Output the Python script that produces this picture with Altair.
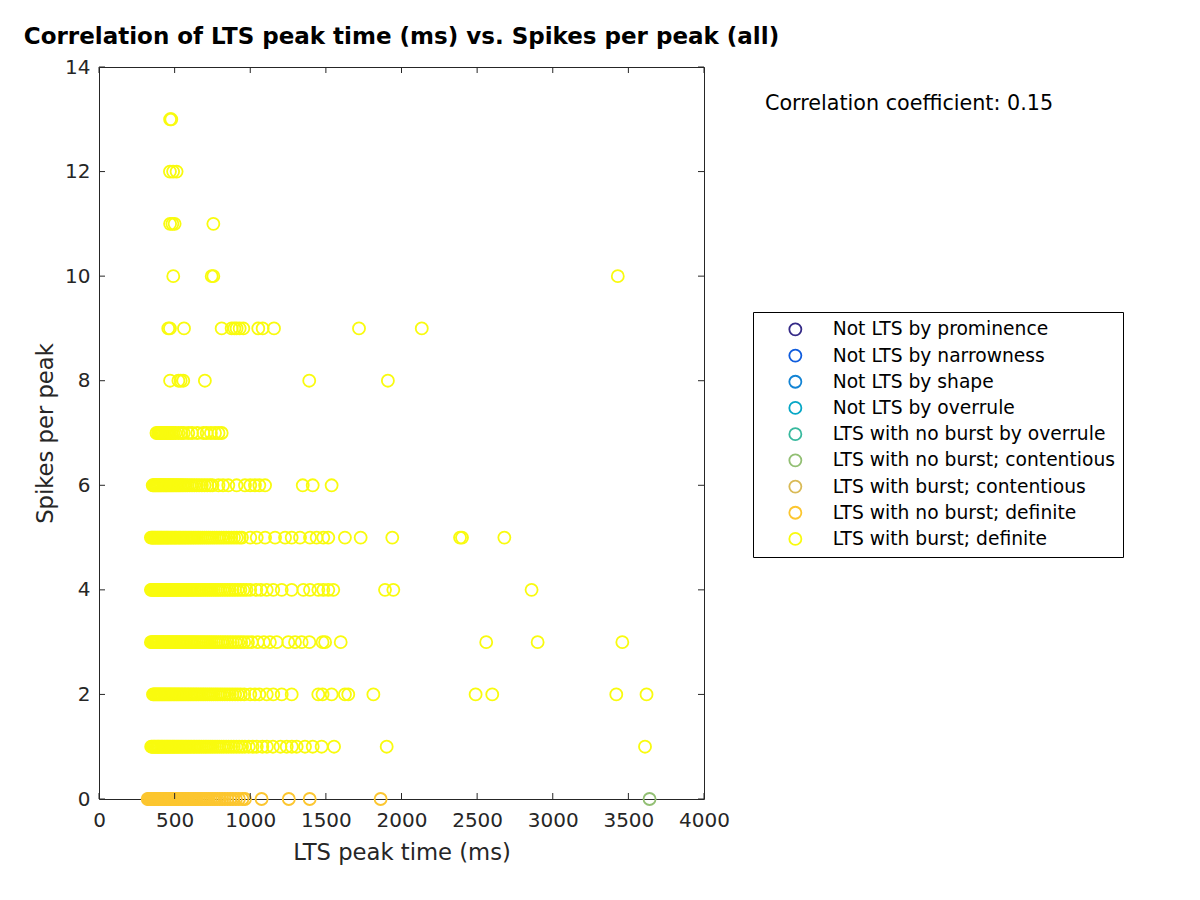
import altair as alt
import pandas as pd

categories = [
    "Not LTS by prominence",
    "Not LTS by narrowness",
    "Not LTS by shape",
    "Not LTS by overrule",
    "LTS with no burst by overrule",
    "LTS with no burst; contentious",
    "LTS with burst; contentious",
    "LTS with no burst; definite",
    "LTS with burst; definite",
]
colors = ["#352A87", "#0F5CDD", "#1283D4", "#06A7C6", "#38B99E",
          "#92BF73", "#D9BA56", "#FCC62F", "#F9FB0E"]

# LTS with no burst; definite (spikes = 0)
nb_def_0 = [322, 330, 338, 345, 351, 358, 364, 371, 377, 384, 390, 397, 404, 410, 417,
            425, 432, 440, 447, 455, 462, 470, 478, 486, 494, 502, 510, 519, 528, 537,
            546, 555, 565, 574, 584, 594, 604, 615, 626, 637, 648, 660, 672, 684, 697,
            710, 724, 738, 752, 767, 782, 798, 815, 832, 850, 868, 885, 905, 925, 948,
            965, 1075, 1255, 1393, 1862]
# LTS with no burst; contentious (spikes = 0)
nb_cont_0 = [3640]

# LTS with burst; definite, one list per spikes-per-peak value
b1 = [345, 352, 360, 366, 373, 381, 388, 394, 401, 409, 416, 423, 431, 438, 446, 453,
      461, 469, 477, 485, 493, 501, 510, 518, 527, 536, 545, 554, 563, 573, 582, 592,
      602, 612, 623, 633, 644, 655, 666, 678, 690, 702, 714, 727, 740, 753, 767, 781,
      795, 810, 825, 841, 857, 874, 891, 909, 927, 946, 965, 990, 1015, 1043, 1080,
      1110, 1150, 1200, 1241, 1275, 1307, 1362, 1413, 1472, 1554, 1902, 3610]
b2 = [357, 363, 370, 377, 384, 391, 398, 405, 413, 420, 428, 435, 443, 451, 459, 467,
      475, 483, 492, 500, 509, 517, 526, 535, 544, 554, 563, 573, 583, 593, 603, 614,
      624, 635, 646, 657, 669, 681, 693, 705, 718, 731, 744, 758, 772, 786, 801, 816,
      832, 848, 865, 882, 900, 918, 937, 960, 1000, 1031, 1060, 1109, 1152, 1208,
      1274, 1450, 1478, 1538, 1626, 1648, 1814, 2490, 2600, 3420, 3620]
b3 = [343, 350, 357, 364, 371, 378, 386, 393, 400, 408, 415, 423, 431, 439, 447, 455,
      463, 471, 480, 488, 497, 506, 515, 524, 533, 543, 552, 562, 572, 582, 592, 603,
      613, 624, 635, 646, 658, 670, 682, 694, 707, 720, 733, 746, 760, 774, 789, 804,
      819, 835, 851, 868, 885, 903, 921, 940, 960, 985, 1010, 1050, 1090, 1130, 1175,
      1252, 1296, 1340, 1391, 1478, 1495, 1598, 2560, 2900, 3460]
b4 = [343, 349, 356, 363, 370, 377, 384, 392, 399, 406, 414, 422, 430, 437, 445, 453,
      462, 470, 478, 487, 496, 504, 513, 522, 532, 541, 551, 561, 571, 581, 591, 602,
      612, 623, 634, 646, 657, 669, 681, 693, 706, 719, 732, 745, 759, 773, 787, 802,
      817, 833, 849, 865, 882, 899, 917, 935, 955, 975, 1000, 1040, 1070, 1109, 1152,
      1208, 1274, 1351, 1395, 1450, 1483, 1516, 1549, 1891, 1946, 2860]
b5 = [343, 350, 356, 363, 370, 377, 385, 392, 399, 407, 414, 422, 430, 438, 446, 454,
      462, 471, 479, 488, 497, 505, 514, 524, 533, 542, 552, 562, 572, 582, 593, 603,
      614, 625, 636, 648, 660, 672, 684, 697, 710, 723, 736, 750, 764, 779, 794, 809,
      825, 841, 858, 875, 893, 911, 930, 945, 1000, 1043, 1098, 1164, 1230, 1274,
      1329, 1395, 1439, 1483, 1516, 1626, 1730, 1939, 2387, 2400, 2680]
b6 = [355, 361, 368, 374, 381, 388, 395, 402, 409, 416, 424, 431, 439, 446, 454, 462,
      470, 478, 487, 495, 504, 513, 522, 531, 541, 551, 562, 574, 586, 600, 615, 630,
      646, 662, 680, 698, 716, 735, 750, 790, 820, 855, 910, 965, 1000, 1031, 1060,
      1098, 1347, 1413, 1538]
b7 = [380, 390, 398, 405, 412, 420, 428, 436, 444, 452, 460, 470, 480, 492, 505, 525,
      545, 560, 590, 615, 650, 690, 712, 740, 767, 790, 811]
b8 = [470, 525, 540, 557, 700, 1390, 1910]
b9 = [458, 469, 562, 811, 877, 895, 910, 930, 954, 1053, 1082, 1157, 1719, 2134]
b10 = [491, 745, 756, 3430]
b11 = [470, 485, 500, 756]
b12 = [469, 490, 513]
b13 = [470, 478]

x_ticks = [0, 500, 1000, 1500, 2000, 2500, 3000, 3500, 4000]
y_ticks = [0, 2, 4, 6, 8, 10, 12, 14]

rows = []
for v in nb_def_0:
    rows.append({"t": v, "s": 0, "c": categories[7]})
for v in nb_cont_0:
    rows.append({"t": v, "s": 0, "c": categories[5]})
for s, lst in enumerate([b1, b2, b3, b4, b5, b6, b7, b8, b9, b10, b11, b12, b13], start=1):
    for v in lst:
        rows.append({"t": v, "s": s, "c": categories[8]})
df = pd.DataFrame(rows)

W, H = 605, 732
FONT = "DejaVu Sans"
DARK = "#262626"

xscale = alt.Scale(domain=[0, 4000], nice=False)
yscale = alt.Scale(domain=[0, 14], nice=False)

points = alt.Chart(df).mark_point(shape="circle", filled=False, size=145, strokeWidth=1.8, opacity=1).encode(
    x=alt.X("t:Q", scale=xscale,
            axis=alt.Axis(title="LTS peak time (ms)", values=x_ticks, format="d", labelOverlap=False,
                          labelFlush=False, grid=False, ticks=False,
                          domain=False, labelFontSize=20, titleFontSize=22.7, labelColor=DARK,
                          titleColor=DARK, labelPadding=11, titlePadding=11, titleFontWeight="normal",
                          labelFont=FONT, titleFont=FONT)),
    y=alt.Y("s:Q", scale=yscale,
            axis=alt.Axis(title="Spikes per peak", values=y_ticks, format="d", labelOverlap=False,
                          labelFlush=False, grid=False, ticks=False,
                          domain=False, labelFontSize=20, titleFontSize=22.7, labelColor=DARK,
                          titleColor=DARK, labelPadding=9, titlePadding=7, titleFontWeight="normal",
                          labelFont=FONT, titleFont=FONT)),
    color=alt.Color("c:N", scale=alt.Scale(domain=categories, range=colors),
                    sort=categories,
                    legend=alt.Legend(title=None, orient="none", legendX=654, legendY=245,
                                      strokeColor="#000000", padding=8, rowPadding=5.2,
                                      labelFontSize=18.7, labelFont=FONT, labelColor="#000000",
                                      symbolSize=145, symbolStrokeWidth=1.8, symbolType="circle",
                                      symbolOffset=25, labelOffset=28, labelLimit=400)),
)

xt = pd.DataFrame({"v": x_ticks})
yt = pd.DataFrame({"v": y_ticks})

xb = alt.Chart(xt).mark_rule(color=DARK, strokeWidth=1).encode(
    x=alt.X("v:Q", scale=xscale), y=alt.value(H), y2=alt.value(H - 6))
xtop = alt.Chart(xt).mark_rule(color=DARK, strokeWidth=1).encode(
    x=alt.X("v:Q", scale=xscale), y=alt.value(0), y2=alt.value(6))
yl = alt.Chart(yt).mark_rule(color=DARK, strokeWidth=1).encode(
    y=alt.Y("v:Q", scale=yscale), x=alt.value(0), x2=alt.value(6))
yr = alt.Chart(yt).mark_rule(color=DARK, strokeWidth=1).encode(
    y=alt.Y("v:Q", scale=yscale), x=alt.value(W), x2=alt.value(W - 6))

corr = alt.Chart(pd.DataFrame({"label": ["Correlation coefficient: 0.15"]})).mark_text(
    align="left", baseline="middle", fontSize=20.7, font=FONT, color="#000000").encode(
    text="label:N", x=alt.value(666), y=alt.value(37))

chart = alt.layer(points, xb, xtop, yl, yr, corr).properties(
    width=W, height=H,
    title=alt.TitleParams("Correlation of LTS peak time (ms) vs. Spikes per peak (all)",
                          fontSize=23, fontWeight="bold", font=FONT, color="#000000",
                          anchor="middle", frame="group", offset=8),
    autosize=alt.AutoSizeParams(type="none"),
    padding={"left": 91, "top": 59, "right": 480, "bottom": 90},
).configure(background="white", view=alt.ViewConfig(stroke=DARK, strokeWidth=1))

chart.save("out.html", embed_options={"renderer": "svg", "actions": False})
